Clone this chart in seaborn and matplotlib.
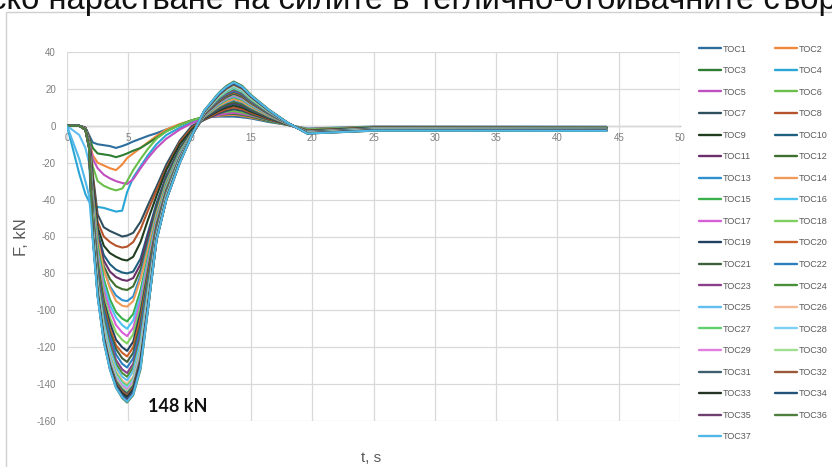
import matplotlib
matplotlib.use("Agg")
import matplotlib.pyplot as plt
import seaborn as sns
import pandas as pd
from matplotlib.patches import Rectangle

# ---- data ----
T = [0, 1.0, 1.5, 1.8, 2.1, 2.5, 3.0, 3.5, 4.0, 4.5, 4.9, 5.4, 6.0, 6.6, 7.3, 8.1,
     9.2, 10.2, 11.2, 12.4, 13.0, 13.6, 14.3, 15.0, 16.5, 18.0, 19.6, 25, 44]

toc1 = [0, 0, -1, -5, -9, -10, -10.5, -11, -12, -11, -10, -8.5, -7, -5.5, -4, -2, 0.5, 3, 4.5, 5, 5, 5, 4.6, 4, 2, 0.5, -1.5, -0.4, -0.5]
toc2 = [0, 0, -1, -8, -16, -20, -21.5, -23, -24, -21, -17.5, -15, -12, -9, -5.5, -2, 1, 3, 4.5, 5.5, 5.8, 6, 5.4, 4.5, 2.5, 0.5, -1.8, -0.6, -0.7]
toc3 = [0, 0, -1, -6, -12, -15, -15.5, -16, -17, -16, -15, -13.5, -12, -9.5, -6.5, -3, 0.5, 3, 5, 6, 6.3, 6.5, 5.9, 5, 2.5, 0.5, -2, -0.7, -0.8]
toc4 = [0, -26, -37, -41, -43, -44, -44.5, -45.5, -46.5, -46, -36, -28, -22, -16, -10, -5, -1, 2, 4.5, 6.5, 7.1, 7.5, 6.9, 6, 3, 0.5, -2, -0.8, -0.9]
toc5 = [0, 0, -1, -8, -18, -23, -26.5, -28.5, -30, -31, -31.5, -29, -23, -17.5, -12, -7, -2, 1.5, 4, 6, 6.6, 7, 6.4, 5.5, 3, 0.5, -2.2, -0.9, -1]
toc6 = [0, 0, -1.5, -10, -22, -30, -32.5, -34, -35, -34, -30, -24, -18, -12.5, -7, -3, 0.5, 3, 5, 7, 7.6, 8, 7.2, 6, 3, 0.5, -2, -0.8, -0.9]
toc7 = [0, 0, -1, -6, -26, -48, -55, -57, -58.5, -60, -59.5, -58, -52, -43, -33, -21, -8, 0, 3.2, 6.8, 8.1, 9, 8.1, 6.3, 3.2, 0.6, -2.5, -0.9, -1]
toc8 = [0, 0, -1.5, -6, -28, -52, -60, -63, -65, -66, -65.5, -63, -56, -46, -35, -23, -9, -1, 3.5, 7.5, 9, 10, 9, 7, 3.6, 0.7, -2.5, -1, -1.1]
toc9 = [0, 0, -1.5, -7, -30, -55, -65, -69, -71, -72.5, -73, -71, -63, -51, -38, -24, -10, -2, 3.9, 8.3, 9.9, 11, 9.9, 7.7, 4, 0.8, -2.8, -1.1, -1.2]
toc10 = [0, 0, -1.5, -7, -33, -58, -70, -75, -78, -79.5, -80, -79, -72, -58, -42, -27, -12, -3, 4.2, 9, 10.8, 12, 10.8, 8.4, 4.3, 0.8, -3, -1.2, -1.3]
toc11 = [0, 0, -1.5, -7.5, -34, -60, -73, -79, -82, -83.5, -84, -82.5, -75, -60, -44, -28, -12.5, -3.5, 4.4, 9.4, 11.2, 12.5, 11.2, 8.8, 4.5, 0.9, -3, -1.3, -1.4]
toc12 = [0, 0, -1.5, -8, -36, -62, -76, -83, -87, -88.5, -89, -87, -78, -63, -45, -29, -13, -3.5, 4.6, 9.8, 11.7, 13, 11.7, 9.1, 4.7, 0.9, -3, -1.3, -1.4]
toc13 = [0, 0, -1.5, -8, -37, -62, -78, -87, -92, -94.5, -95, -92.5, -81, -65, -47, -30, -14, -4, 4.9, 10.5, 12.6, 14, 12.6, 9.8, 5, 1, -3.1, -1.4, -1.5]
toc14 = [0, 0, -1.5, -8, -38, -62, -78, -88, -95, -97.5, -98, -95, -83, -67, -48, -31, -14.5, -4, 5.1, 10.9, 13, 14.5, 13, 10.2, 5.2, 1, -3.2, -1.5, -1.6]
toc15 = [0, 0, -2, -8.5, -40, -65, -83, -94, -101, -104.5, -106, -102, -89, -71, -50, -32, -15, -4.5, 5.4, 11.6, 14, 15.5, 14, 10.9, 5.6, 1.1, -3.2, -1.5, -1.6]
toc16 = [0, 0, -2, -9, -42, -68, -86, -97, -104, -108, -110, -105.5, -92, -73, -51, -33, -15.5, -4.5, 5.6, 12, 14.4, 16, 14.4, 11.2, 5.8, 1.1, -3.3, -1.6, -1.7]
toc17 = [0, 0, -2, -9, -44, -70, -89, -100, -108, -112, -114, -109.5, -95, -75, -52, -33.5, -16, -5, 5.8, 12.4, 14.8, 16.5, 14.8, 11.6, 5.9, 1.2, -3.3, -1.6, -1.7]
toc18 = [0, 0, -2, -9, -45, -72, -92, -104, -112, -116, -118, -113, -98, -77, -53, -34, -16.5, -5, 6, 12.8, 15.3, 17, 15.3, 11.9, 6.1, 1.2, -3.4, -1.7, -1.8]
toc19 = [0, 0, -2, -9.5, -47, -75, -95, -107, -116, -120, -122, -117, -101, -79, -54, -35, -17, -5, 6.1, 13.1, 15.7, 17.5, 15.7, 12.3, 6.3, 1.2, -3.4, -1.8, -1.9]
toc20 = [0, 0, -2, -9.5, -48, -77, -97, -110, -119, -123, -125, -120, -104, -81, -55, -35.5, -17, -5, 6.3, 13.5, 16.2, 18, 16.2, 12.6, 6.5, 1.3, -3.5, -1.8, -1.9]
toc21 = [0, 0, -2, -10, -49, -78, -99, -112, -121, -126, -128, -123, -107, -83, -56, -36, -17.5, -5, 6.5, 13.9, 16.6, 18.5, 16.6, 13, 6.7, 1.3, -3.5, -1.9, -2]
toc22 = [0, 0, -2, -10, -50, -80, -101, -114, -124, -129, -131, -126, -110, -85, -57, -36.5, -17.5, -5, 6.7, 14.3, 17.1, 19, 17.1, 13.3, 6.8, 1.3, -3.6, -1.9, -2]
toc23 = [0, 0, -2, -10, -51, -82, -104, -117, -127, -132, -134, -129, -113, -87, -58, -37, -18, -5, 6.8, 14.6, 17.5, 19.5, 17.5, 13.7, 7, 1.4, -3.6, -2, -2.1]
toc24 = [0, 0, -2, -10.5, -52, -83, -105, -119, -129, -134, -136, -131, -115, -88, -58.5, -37.5, -18, -5, 7, 15, 18, 20, 18, 14, 7.2, 1.4, -3.7, -2, -2.1]
toc25 = [0, -5, -12, -20, -54, -85, -107, -121, -131, -136, -138, -133, -117, -90, -59, -38, -18, -5, 7.2, 15.4, 18.4, 20.5, 18.4, 14.4, 7.4, 1.4, -3.7, -2.1, -2.2]
toc26 = [0, 0, -2, -11, -55, -86, -110, -124, -133, -138, -140, -136, -121, -93, -59.5, -38, -18.5, -5, 7.4, 15.8, 18.9, 21, 18.9, 14.7, 7.6, 1.5, -3.8, -2.1, -2.2]
toc27 = [0, 0, -2, -11, -56, -87, -111, -125, -134, -139, -141, -137, -122, -94, -60, -38.5, -18.5, -5, 7.3, 15.7, 18.9, 21, 18.9, 14.6, 7.5, 1.5, -3.8, -2.2, -2.3]
toc28 = [0, 0, -2, -11, -56.5, -88, -112, -126, -135.5, -140, -142, -138, -123, -95, -60, -38.5, -18.5, -5, 7.5, 16.1, 19.3, 21.5, 19.3, 15.1, 7.7, 1.5, -3.9, -2.2, -2.3]
toc29 = [0, 0, -2, -11.5, -57, -88.5, -113, -127, -136.5, -141, -143, -139, -124, -96, -60.5, -39, -19, -5, 7.7, 16.5, 19.8, 22, 19.8, 15.4, 7.9, 1.5, -3.9, -2.3, -2.4]
toc30 = [0, 0, -2, -11.5, -57.5, -89, -113.5, -128, -137.5, -142, -144, -140, -125, -97, -61, -39, -19, -5, 7.6, 16.4, 19.8, 22, 19.8, 15.3, 7.8, 1.5, -4, -2.3, -2.4]
toc31 = [0, 0, -2, -11.5, -58, -90, -114, -129, -138.5, -143, -145, -141, -126, -97.5, -61, -39.5, -19, -5, 7.9, 16.9, 20.2, 22.5, 20.2, 15.8, 8.1, 1.6, -4, -2.4, -2.5]
toc32 = [0, 0, -2, -12, -58.5, -90.5, -115, -130, -139.5, -144, -146, -142, -127, -98, -61.5, -39.5, -19.5, -5, 7.8, 16.8, 20.2, 22.5, 20.2, 15.7, 8, 1.6, -4, -2.4, -2.5]
toc33 = [0, 0, -2, -12, -59, -91, -115.5, -130.5, -140.5, -145, -147, -143, -128, -98.5, -61.5, -40, -19.5, -5, 8, 17.3, 20.7, 23, 20.7, 16.1, 8.3, 1.6, -4.1, -2.5, -2.6]
toc34 = [0, 0, -2, -12, -59.5, -91.5, -116, -131, -141, -146, -148, -144, -129, -99, -62, -40, -20, -5, 8.1, 17.2, 20.7, 23, 20.7, 16, 8.2, 1.6, -4.1, -2.5, -2.6]
toc35 = [0, 0, -2, -12, -60, -92, -116.5, -131.5, -141.5, -147, -149, -145, -130.5, -99.5, -62, -40, -20, -5, 8.2, 17.6, 21.1, 23.5, 21.1, 16.5, 8.5, 1.6, -4.2, -2.6, -2.7]
toc36 = [0, 0, -2, -12, -60, -92, -117, -132, -142, -147.5, -150, -146, -132, -100, -62, -40, -20, -5, 8.4, 18, 21.6, 24, 21.6, 16.8, 8.6, 1.7, -4.2, -2.7, -2.8]
toc37 = [0, -18, -30, -38, -62, -93, -117, -132, -142, -147, -149.5, -145.5, -131, -99.5, -62, -40, -20, -5, 8.3, 17.7, 21.1, 23.5, 21.1, 16.4, 8.4, 1.6, -4.2, -2.6, -2.7]

SERIES = [toc1, toc2, toc3, toc4, toc5, toc6, toc7, toc8, toc9, toc10, toc11, toc12,
          toc13, toc14, toc15, toc16, toc17, toc18, toc19, toc20, toc21, toc22, toc23,
          toc24, toc25, toc26, toc27, toc28, toc29, toc30, toc31, toc32, toc33, toc34,
          toc35, toc36, toc37]
NAMES = ["TOC%d" % i for i in range(1, 38)]
COLORS = ['#2e6e9e', '#f0883e', '#2e7d32', '#2aa6d6', '#c04fc0', '#6abf4b', '#2f4f5f',
          '#b5542c', '#1f3d1f', '#1f5f7f', '#6a2f6a', '#3f6f2f', '#2f8fcf', '#f09a5a',
          '#3aaf4a', '#4fc3f0', '#d65fd6', '#7fcf5f', '#1f4060', '#c8602a', '#3f5f3f',
          '#2a7fbf', '#8a3f8a', '#4a8f3a', '#5fbfef', '#f5b895', '#5fcf6f', '#7fd0f5',
          '#e07fe0', '#9fdf8f', '#3f5f6f', '#9a5a3a', '#253525', '#24527a', '#6f3f6f',
          '#4f7f3f', '#4fb8e8']
X_TICKS = [0, 5, 10, 15, 20, 25, 30, 35, 40, 45, 50]
Y_TICKS = [-160, -140, -120, -100, -80, -60, -40, -20, 0, 20, 40]
TITLE = "ско нарастване на силите в теглично-отбивачните съоръжения"
X_LABEL = "t, s"
Y_LABEL = "F, kN"
NOTE = "148 kN"
NOTE_POS = (9.0, -152)

# ---- figure ----
sns.set_theme(style="white")
plt.rcParams['font.family'] = ['Liberation Sans', 'DejaVu Sans']
plt.rcParams['axes.unicode_minus'] = False

W, H = 832, 467
fig = plt.figure(figsize=(W / 100, H / 100), dpi=100)
ax = fig.add_axes([67 / W, 1 - 421 / H, (680 - 67) / W, (421 - 52) / H])

rows = []
for name, vals in zip(NAMES, SERIES):
    for t, f in zip(T, vals):
        rows.append((name, t, f))
df = pd.DataFrame(rows, columns=["series", "t", "F"])

sns.lineplot(data=df, x="t", y="F", hue="series", hue_order=NAMES, palette=COLORS,
             estimator=None, sort=False, linewidth=1.5, ax=ax, legend=True)

leg = ax.get_legend()
handles = list(leg.legend_handles)
labels = [tx.get_text() for tx in leg.get_texts()]
leg.remove()
for h in handles:
    h.set_linewidth(1.7)

order = list(range(0, 37, 2)) + list(range(1, 37, 2))
fig.legend([handles[i] for i in order], [labels[i] for i in order], ncol=2,
           loc="upper left", bbox_to_anchor=(699 / W, 1 - 44.5 / H), frameon=False,
           fontsize=6.5, handlelength=2.4, handletextpad=0.2, columnspacing=2.66,
           labelspacing=1.39, borderpad=0, borderaxespad=0, labelcolor='#595959')

ax.set_xlim(0, 50)
ax.set_ylim(-160, 40)
ax.set_xticks(X_TICKS)
ax.set_yticks(Y_TICKS)
ax.grid(True, color='#d9d9d9', linewidth=0.9)
ax.set_axisbelow(True)
for s in ['left', 'right', 'top']:
    ax.spines[s].set_visible(False)
ax.spines['bottom'].set_position(('data', 0))
ax.spines['bottom'].set_color('#bfbfbf')
ax.spines['bottom'].set_linewidth(1.0)
ax.spines['bottom'].set_zorder(0.5)
ax.tick_params(axis='x', length=0, pad=5, labelsize=7, labelcolor='#7f7f7f')
ax.tick_params(axis='y', length=0, pad=8, labelsize=7, labelcolor='#7f7f7f')
ax.set_xlabel("")
ax.set_ylabel("")

ax.text(NOTE_POS[0], NOTE_POS[1], NOTE, fontsize=13, fontweight='bold',
        family=['Lato', 'DejaVu Sans'], ha='center', va='center', color='#111111')

fig.text(22 / W, 1 - 237 / H, Y_LABEL, rotation=90, ha='center', va='center',
         fontsize=12, color='#595959')
fig.text(371 / W, 1 - 458 / H, X_LABEL, ha='center', va='center',
         fontsize=11, color='#595959')

fig.text(-10 / W, 1 - 9 / H, TITLE, ha='left', va='baseline', fontsize=23.6, color='#111111')

fig.add_artist(Rectangle((6 / W, -0.1), 1.2, 1.1 - 11.5 / H, transform=fig.transFigure,
                         fill=False, edgecolor='#d0d0d0', linewidth=1.0))

fig.savefig("out.png", dpi=100)
